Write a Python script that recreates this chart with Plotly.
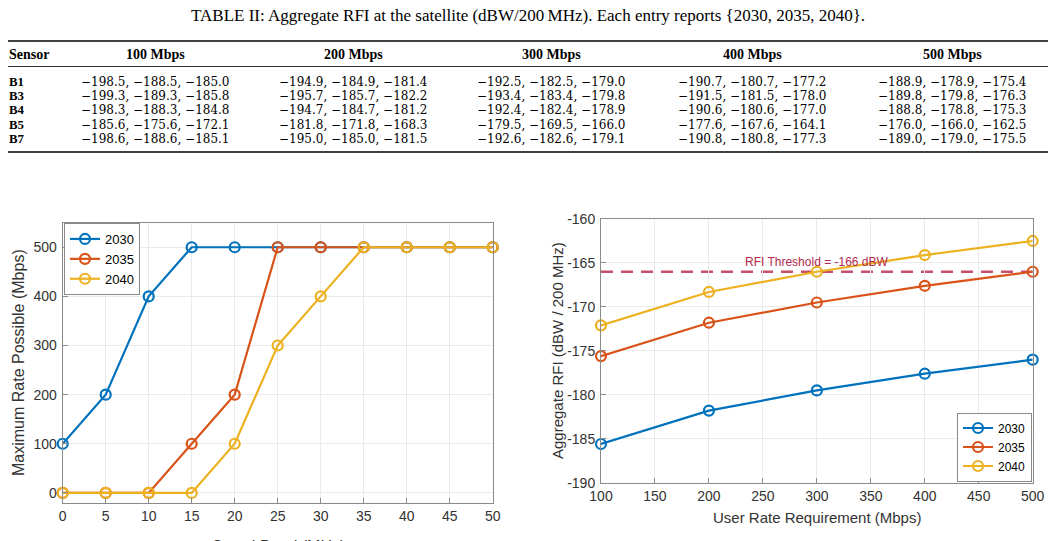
import plotly.graph_objects as go

W, H = 1056, 541

def px(x):
    return x / W

def py(y):
    return 1 - y / H

# ---------------- data ----------------
table_title = "TABLE II: Aggregate RFI at the satellite (dBW/200\u2009MHz). Each entry reports {2030, 2035, 2040}."
sensors = ["B1", "B3", "B4", "B5", "B7"]
rate_headers = ["100 Mbps", "200 Mbps", "300 Mbps", "400 Mbps", "500 Mbps"]
user_rates = [100, 200, 300, 400, 500]

rfi_2030 = [
    [-198.5, -194.9, -192.5, -190.7, -188.9],
    [-199.3, -195.7, -193.4, -191.5, -189.8],
    [-198.3, -194.7, -192.4, -190.6, -188.8],
    [-185.6, -181.8, -179.5, -177.6, -176.0],
    [-198.6, -195.0, -192.6, -190.8, -189.0],
]
rfi_2035 = [
    [-188.5, -184.9, -182.5, -180.7, -178.9],
    [-189.3, -185.7, -183.4, -181.5, -179.8],
    [-188.3, -184.7, -182.4, -180.6, -178.8],
    [-175.6, -171.8, -169.5, -167.6, -166.0],
    [-188.6, -185.0, -182.6, -180.8, -179.0],
]
rfi_2040 = [
    [-185.0, -181.4, -179.0, -177.2, -175.4],
    [-185.8, -182.2, -179.8, -178.0, -176.3],
    [-184.8, -181.2, -178.9, -177.0, -175.3],
    [-172.1, -168.3, -166.0, -164.1, -162.5],
    [-185.1, -181.5, -179.1, -177.3, -175.5],
]

guard_band = [0, 5, 10, 15, 20, 25, 30, 35, 40, 45, 50]
max_rate_2030 = [100, 200, 400, 500, 500, 500, 500, 500, 500, 500, 500]
max_rate_2035 = [0, 0, 0, 100, 200, 500, 500, 500, 500, 500, 500]
max_rate_2040 = [0, 0, 0, 0, 100, 300, 400, 500, 500, 500, 500]
rate_ticks = [0, 100, 200, 300, 400, 500]
rfi_ticks = [-190, -185, -180, -175, -170, -165, -160]
user_rate_ticks = [100, 150, 200, 250, 300, 350, 400, 450, 500]

chart_sensor = "B5"
rfi_threshold = -166
years = ["2030", "2035", "2040"]
colors = ["#0072BD", "#D95319", "#EDB120"]

# ---------------- figure ----------------
fig = go.Figure()

sans = "Liberation Sans, Arial, sans-serif"
serif = "Liberation Serif, Times New Roman, serif"
mathserif = "DejaVu Serif, serif"
tick_col = "#333333"
axis_col = "#8a8a8a"
grid_col = "#ebebeb"

for yr, vals, c in zip(years, [max_rate_2030, max_rate_2035, max_rate_2040], colors):
    fig.add_trace(go.Scatter(
        x=guard_band, y=vals, name=yr, mode="lines+markers",
        line=dict(color=c, width=2.2),
        marker=dict(symbol="circle-open", size=10, line=dict(color=c, width=2.2)),
        xaxis="x", yaxis="y", legend="legend", cliponaxis=False,
    ))

ri = sensors.index(chart_sensor)
for yr, tbl, c in zip(years, [rfi_2030, rfi_2035, rfi_2040], colors):
    fig.add_trace(go.Scatter(
        x=user_rates, y=tbl[ri], name=yr, mode="lines+markers",
        line=dict(color=c, width=2.2),
        marker=dict(symbol="circle-open", size=10, line=dict(color=c, width=2.2)),
        xaxis="x2", yaxis="y2", legend="legend2", cliponaxis=False,
    ))

axis_common = dict(
    showline=True, linecolor=axis_col, linewidth=1, mirror=True,
    ticks="inside", ticklen=5, tickcolor=axis_col,
    showgrid=True, gridcolor=grid_col, gridwidth=1, zeroline=False,
    tickfont=dict(family=sans, size=14, color=tick_col),
    automargin=False,
)

legend_common = dict(
    bgcolor="white", bordercolor=axis_col, borderwidth=1,
    itemwidth=30, tracegroupgap=0,
)

fig.update_layout(
    width=W, height=H,
    margin=dict(l=0, r=0, t=0, b=0, pad=0, autoexpand=False),
    paper_bgcolor="white", plot_bgcolor="white",
    xaxis=dict(domain=[px(62.7), px(492.7)], anchor="y", range=[0, 50],
               tickvals=guard_band, **axis_common),
    yaxis=dict(domain=[py(502.7), py(222.7)], anchor="x", range=[-20, 550],
               tickvals=rate_ticks, ticklabelstandoff=2, **axis_common),
    xaxis2=dict(domain=[px(601), px(1032.7)], anchor="y2", range=[100, 500],
                tickvals=user_rate_ticks, **axis_common),
    yaxis2=dict(domain=[py(482.7), py(219)], anchor="x2", range=[-190, -160],
                tickvals=rfi_ticks, ticktext=[str(v) for v in rfi_ticks],
                ticklabelstandoff=2, **axis_common),
    legend=dict(x=px(64), y=py(223), xanchor="left", yanchor="top",
                font=dict(family=sans, size=13, color="black"), **legend_common),
    legend2=dict(x=px(1032), y=py(481.5), xanchor="right", yanchor="bottom",
                 font=dict(family=sans, size=12, color="black"), **legend_common),
    showlegend=True,
)

fig.add_shape(type="line", xref="x2", yref="y2", x0=user_rates[0], x1=user_rates[-1],
              y0=rfi_threshold, y1=rfi_threshold,
              line=dict(color="#C4506C", width=2.5, dash="12px,8px"), layer="below")
fig.add_annotation(xref="x2", yref="y2", x=300, y=rfi_threshold, yshift=10,
                   xanchor="center", yanchor="middle",
                   text=f"RFI Threshold = {rfi_threshold} dBW", showarrow=False,
                   font=dict(family=sans, size=12, color="#B5294F"))

def note(x, y, text, font, xanchor="center", yanchor="middle", angle=0):
    fig.add_annotation(xref="paper", yref="paper", x=px(x), y=py(y),
                       xanchor=xanchor, yanchor=yanchor, textangle=angle,
                       text=text, showarrow=False, font=font, borderpad=0)

note(277.7, 546, "Guard Band (MHz)", dict(family=sans, size=16, color=tick_col))
note(18, 363, "Maximum Rate Possible (Mbps)", dict(family=sans, size=16, color=tick_col), angle=-90)
note(817, 517, "User Rate Requirement (Mbps)", dict(family=sans, size=15, color=tick_col))
note(557, 351, "Aggregate RFI (dBW / 200 MHz)", dict(family=sans, size=15, color=tick_col), angle=-90)

# ---------------- table ----------------
note(528, 15, table_title, dict(family=serif, size=17, color="black"))

rule_x0, rule_x1 = 8, 1048
for yy, w in [(41, 1.6), (66.5, 0.8), (152, 1.6)]:
    fig.add_shape(type="line", xref="paper", yref="paper",
                  x0=px(rule_x0), x1=px(rule_x1), y0=py(yy), y1=py(yy),
                  line=dict(color="black", width=w))

col_centers = [155, 353, 551, 752, 952]
header_y = 54
note(8, header_y, "<b>Sensor</b>", dict(family=serif, size=14, color="black"), xanchor="left")
for cx, h in zip(col_centers, rate_headers):
    note(cx, header_y, f"<b>{h}</b>", dict(family=serif, size=14, color="black"))

def fmt(v):
    return f"{v:.1f}".replace("-", "\u2212")

row_y0, row_dy = 82, 14.2
for i, s in enumerate(sensors):
    yy = row_y0 + i * row_dy
    note(8, yy, f"<b>{s}</b>", dict(family=serif, size=12.8, color="black"), xanchor="left")
    for j, cx in enumerate(col_centers):
        txt = ", ".join(fmt(t[i][j]) for t in (rfi_2030, rfi_2035, rfi_2040))
        note(cx, yy, txt, dict(family=mathserif, size=12, color="black"))

fig.write_html("out.html")
